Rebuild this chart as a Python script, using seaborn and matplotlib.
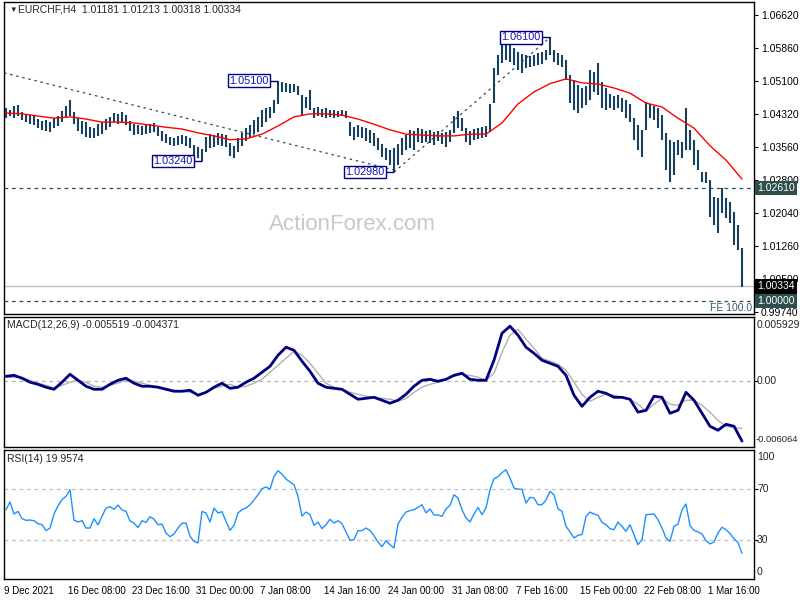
"""
EURCHF H4 chart with MA, MACD and RSI panels
"""

import matplotlib
matplotlib.use("Agg")
import matplotlib.pyplot as plt
import seaborn as sns

# price bars (one bar every 8 hours)
bar_high = [
    1.0446, 1.0442, 1.0451, 1.0453, 1.0437, 1.0433, 1.0430, 1.0428, 1.0421, 1.0416,
    1.0419, 1.0414, 1.0423, 1.0428, 1.0440, 1.0451, 1.0465, 1.0437, 1.0423, 1.0416,
    1.0414, 1.0402, 1.0400, 1.0409, 1.0414, 1.0421, 1.0426, 1.0435, 1.0433, 1.0437,
    1.0430, 1.0416, 1.0409, 1.0407, 1.0405, 1.0407, 1.0409, 1.0412, 1.0402, 1.0393,
    1.0386, 1.0379, 1.0377, 1.0382, 1.0384, 1.0382, 1.0377, 1.0361, 1.0356, 1.0352,
    1.0379, 1.0386, 1.0384, 1.0389, 1.0386, 1.0384, 1.0366, 1.0359, 1.0377, 1.0389,
    1.0400, 1.0407, 1.0419, 1.0426, 1.0442, 1.0446, 1.0449, 1.0465, 1.0510, 1.0507,
    1.0505, 1.0502, 1.0502, 1.0498, 1.0477, 1.0472, 1.0488, 1.0446, 1.0449, 1.0444,
    1.0446, 1.0442, 1.0442, 1.0440, 1.0442, 1.0440, 1.0414, 1.0402, 1.0407, 1.0402,
    1.0400, 1.0396, 1.0389, 1.0377, 1.0363, 1.0354, 1.0349, 1.0354, 1.0363, 1.0377,
    1.0384, 1.0396, 1.0393, 1.0400, 1.0398, 1.0393, 1.0396, 1.0391, 1.0393, 1.0389,
    1.0391, 1.0396, 1.0428, 1.0440, 1.0423, 1.0400, 1.0393, 1.0398, 1.0400, 1.0402,
    1.0405, 1.0456, 1.0539, 1.0570, 1.0604, 1.0600, 1.0595, 1.0586, 1.0576, 1.0572,
    1.0570, 1.0567, 1.0570, 1.0574, 1.0576, 1.0581, 1.0610, 1.0581, 1.0574, 1.0570,
    1.0558, 1.0523, 1.0512, 1.0500, 1.0493, 1.0498, 1.0535, 1.0530, 1.0551, 1.0507,
    1.0493, 1.0479, 1.0474, 1.0477, 1.0470, 1.0465, 1.0456, 1.0423, 1.0407, 1.0396,
    1.0460, 1.0456, 1.0451, 1.0446, 1.0430, 1.0389, 1.0373, 1.0368, 1.0373, 1.0368,
    1.0446, 1.0396, 1.0373, 1.0349, 1.0298, 1.0298, 1.0280, 1.0241, 1.0238, 1.0261,
    1.0238, 1.0229, 1.0206, 1.0176, 1.01213,
]
bar_low = [
    1.0423, 1.0428, 1.0423, 1.0428, 1.0419, 1.0414, 1.0409, 1.0407, 1.0400, 1.0396,
    1.0393, 1.0391, 1.0400, 1.0405, 1.0414, 1.0423, 1.0428, 1.0409, 1.0393, 1.0386,
    1.0379, 1.0377, 1.0377, 1.0382, 1.0386, 1.0396, 1.0402, 1.0414, 1.0409, 1.0414,
    1.0407, 1.0393, 1.0384, 1.0386, 1.0384, 1.0386, 1.0389, 1.0391, 1.0382, 1.0370,
    1.0366, 1.0361, 1.0359, 1.0361, 1.0363, 1.0359, 1.0354, 1.0338, 1.0331, 1.0324,
    1.0345, 1.0354, 1.0356, 1.0361, 1.0359, 1.0356, 1.0336, 1.0331, 1.0345, 1.0359,
    1.0370, 1.0377, 1.0386, 1.0391, 1.0402, 1.0414, 1.0423, 1.0435, 1.0456, 1.0484,
    1.0484, 1.0481, 1.0484, 1.0477, 1.0430, 1.0446, 1.0442, 1.0423, 1.0428, 1.0426,
    1.0423, 1.0426, 1.0423, 1.0426, 1.0428, 1.0423, 1.0382, 1.0373, 1.0379, 1.0377,
    1.0370, 1.0366, 1.0359, 1.0349, 1.0333, 1.0326, 1.0315, 1.0298, 1.0315, 1.0338,
    1.0349, 1.0354, 1.0349, 1.0368, 1.0366, 1.0368, 1.0366, 1.0361, 1.0370, 1.0363,
    1.0356, 1.0368, 1.0389, 1.0400, 1.0393, 1.0368, 1.0361, 1.0373, 1.0375, 1.0377,
    1.0379, 1.0391, 1.0458, 1.0523, 1.0551, 1.0558, 1.0553, 1.0546, 1.0535, 1.0528,
    1.0539, 1.0542, 1.0544, 1.0546, 1.0549, 1.0558, 1.0569, 1.0553, 1.0546, 1.0542,
    1.0512, 1.0458, 1.0442, 1.0435, 1.0446, 1.0453, 1.0465, 1.0484, 1.0477, 1.0446,
    1.0442, 1.0446, 1.0442, 1.0446, 1.0437, 1.0423, 1.0414, 1.0373, 1.0349, 1.0333,
    1.0396, 1.0423, 1.0419, 1.0400, 1.0373, 1.0303, 1.0275, 1.0291, 1.0338, 1.0331,
    1.0349, 1.0349, 1.0315, 1.0303, 1.0275, 1.0273, 1.0194, 1.0176, 1.0157, 1.0203,
    1.0192, 1.0180, 1.0129, 1.0118, 1.00318,
]

# moving average, every 4th bar
ma_values = [
    1.0435, 1.0433, 1.0428, 1.0423, 1.0426, 1.0421, 1.0414, 1.0414, 1.0412, 1.0407,
    1.0402, 1.0398, 1.0389, 1.0382, 1.0373, 1.0375, 1.0386, 1.0405, 1.0426, 1.0433,
    1.0433, 1.0430, 1.0421, 1.0409, 1.0396, 1.0386, 1.0384, 1.0382, 1.0382, 1.0386,
    1.0386, 1.0412, 1.0456, 1.0484, 1.0503, 1.0514, 1.0505, 1.0502, 1.0493, 1.0481,
    1.0458, 1.0449, 1.0423, 1.0400, 1.0359, 1.0326, 1.0282,
]

# MACD(12,26,9), every 2nd bar
macd_main = [
    0.00046, 0.00055, 0.00028, -0.00009, -0.00028, -0.00055, -0.00074, -0.00009, 0.00065, 0.00009,
    -0.00046, -0.00074, -0.00074, -0.00028, 0.00009, 0.00028, -0.00018, -0.00046, -0.00046, -0.00055,
    -0.00074, -0.00092, -0.00092, -0.00083, -0.00129, -0.00102, -0.00055, -0.00018, -0.00065, -0.00055,
    -0.00009, 0.00028, 0.00083, 0.00138, 0.0024, 0.00314, 0.00286, 0.00185, 0.00092, -0.00018,
    -0.00055, -0.00065, -0.00074, -0.0012, -0.00166, -0.00157, -0.00148, -0.00175, -0.00203, -0.00175,
    -0.0012, -0.00046, 0.00009, 0.00018, 0.0, 0.00018, 0.00055, 0.00074, 0.00018, 0.00009,
    0.00009, 0.00194, 0.00443, 0.00508, 0.00425, 0.00314, 0.00258, 0.00194, 0.00166, 0.00138,
    0.00055, -0.00129, -0.00231, -0.00148, -0.00092, -0.00111, -0.00148, -0.00148, -0.00166, -0.00285,
    -0.00268, -0.00138, -0.00148, -0.00295, -0.00268, -0.00102, -0.00175, -0.00295, -0.00415, -0.00452,
    -0.00397, -0.00415, -0.005519,
]
macd_signal = [
    0.00037, 0.00037, 0.00037, 0.00009, -0.00018, -0.00037, -0.00065, -0.00037, -0.00009, 0.00009,
    -0.00009, -0.00046, -0.00055, -0.00037, -0.00018, 0.00009, 0.0, -0.00018, -0.00037, -0.00055,
    -0.00065, -0.00083, -0.00092, -0.00102, -0.0012, -0.00102, -0.00065, -0.00046, -0.00028, -0.00055,
    -0.00046, -0.00018, 0.00018, 0.00083, 0.00148, 0.00212, 0.00277, 0.0024, 0.00166, 0.00074,
    -0.00018, -0.00055, -0.00074, -0.00102, -0.0012, -0.00138, -0.00148, -0.00157, -0.00166, -0.00185,
    -0.00157, -0.00102, -0.00055, -0.00028, -0.00009, 0.00018, 0.00046, 0.00065, 0.00055, 0.00037,
    0.00009, 0.00074, 0.00268, 0.00425, 0.0048, 0.00388, 0.00305, 0.00212, 0.00185, 0.00157,
    0.00102, -0.00009, -0.0012, -0.00185, -0.00148, -0.0012, -0.00129, -0.00148, -0.00166, -0.00212,
    -0.00277, -0.00212, -0.00157, -0.00212, -0.00222, -0.00175, -0.00175, -0.00222, -0.00286, -0.0036,
    -0.00415, -0.00425, -0.004371,
]

# RSI(14), every bar
rsi_values = [
    53.7, 59.7, 50.4, 52.4, 46.8, 45.5, 45.7, 45.2, 42.9, 42.1,
    37.5, 39.5, 50.4, 56.8, 61.5, 64.1, 69.2, 45.7, 44.2, 45.2,
    39.5, 39.5, 46.8, 41.9, 48.6, 55.0, 56.1, 54.0, 57.3, 53.5,
    52.4, 45.0, 43.4, 39.8, 45.2, 43.9, 48.3, 46.3, 42.1, 42.6,
    35.7, 32.8, 34.9, 39.5, 43.2, 43.4, 33.1, 29.2, 27.9, 52.4,
    51.2, 44.2, 55.0, 51.2, 52.2, 44.7, 37.7, 41.6, 51.2, 53.7,
    55.0, 57.6, 61.2, 65.3, 70.0, 71.3, 69.7, 79.5, 83.9, 81.3,
    77.5, 75.2, 73.1, 64.1, 48.8, 51.9, 49.9, 41.6, 44.2, 39.0,
    42.1, 46.3, 43.4, 45.2, 42.9, 36.5, 30.0, 30.5, 37.5, 37.5,
    39.5, 37.5, 33.6, 28.7, 25.1, 29.7, 26.6, 24.1, 42.6, 47.8,
    51.9, 53.0, 53.7, 55.5, 57.6, 51.2, 54.3, 49.6, 49.6, 48.6,
    54.3, 57.1, 65.3, 62.8, 53.7, 47.3, 44.2, 50.4, 55.5, 49.9,
    55.0, 69.2, 77.7, 79.3, 82.4, 84.7, 78.2, 70.5, 69.7, 69.5,
    58.9, 63.3, 62.8, 57.6, 57.6, 61.2, 67.9, 65.3, 54.5, 52.4,
    40.8, 36.5, 31.8, 33.9, 34.4, 48.6, 51.9, 50.4, 49.4, 43.9,
    42.1, 39.0, 38.3, 44.2, 40.8, 37.0, 42.1, 34.4, 26.6, 30.5,
    49.9, 50.1, 50.4, 46.0, 39.5, 31.8, 29.2, 40.8, 42.6, 53.7,
    58.1, 41.4, 37.7, 36.5, 34.9, 29.7, 27.2, 28.7, 35.7, 40.1,
    38.3, 35.2, 31.3, 28.2, 19.9574,
]

date_labels = ["9 Dec 2021", "16 Dec 08:00", "23 Dec 16:00", "31 Dec 00:00",
               "7 Jan 08:00", "14 Jan 16:00", "24 Jan 00:00", "31 Jan 08:00",
               "7 Feb 16:00", "15 Feb 00:00", "22 Feb 08:00", "1 Mar 16:00"]
price_ticks = [1.0662, 1.0586, 1.0510, 1.0432, 1.0356, 1.0280, 1.0204, 1.0126, 1.0050, 0.9974]

last_ohlc = [1.01181, 1.01213, 1.00318, 1.00334]
level_resist = 1.0261
level_fe = 1.0000

# swing labels and trend lines
swing_text = ["1.05100", "1.03240", "1.02980", "1.06100"]
swing_bar = [68, 49, 97, 136]
swing_price = [1.0510, 1.0324, 1.0298, 1.0610]
trend_a_bar = [-0.5, 97]
trend_a_price = [1.0528, 1.0303]
trend_b_bar = [97, 136]
trend_b_price = [1.0298, 1.0610]

sns.set_style("white")
plt.rcParams["font.family"] = ["Liberation Sans", "DejaVu Sans"]

BAR = "#17405f"
NAVY = "#000080"
SLATE = "#2f4f4f"
FS = 7.5

bar_idx = list(range(len(bar_high)))
ma_idx = list(range(0, len(bar_high), 4))
macd_idx = list(range(0, len(bar_high), 2))
date_ticks = [16 * k - 0.5 for k in range(len(date_labels))]

fig = plt.figure(figsize=(8, 6), dpi=100)
ax_p = fig.add_axes([4 / 800, 1 - 314 / 600, 750 / 800, 312 / 600])
ax_m = fig.add_axes([4 / 800, 1 - 447 / 600, 750 / 800, 130 / 600])
ax_r = fig.add_axes([4 / 800, 1 - 579 / 600, 750 / 800, 129 / 600])

for ax in (ax_p, ax_m, ax_r):
    ax.set_xlim(-0.5, 187)
    for sp in ax.spines.values():
        sp.set_color("black")
        sp.set_linewidth(1)
    ax.yaxis.tick_right()
    ax.tick_params(axis="y", length=3, width=0.8, labelsize=FS, pad=2, colors="black")

# price panel
ax_p.vlines(bar_idx, bar_low, bar_high, color=BAR, lw=1.5, zorder=3)
sns.lineplot(x=ma_idx, y=ma_values, ax=ax_p, color="red", lw=1, zorder=4)
ax_p.plot(trend_a_bar, trend_a_price, color=SLATE, lw=0.9, ls=(0, (2, 3)))
ax_p.plot(trend_b_bar, trend_b_price, color=SLATE, lw=0.9, ls=(0, (2, 3)))
ax_p.axhline(level_resist, color=SLATE, lw=0.9, ls=(0, (3, 3)))
ax_p.axhline(level_fe, color=SLATE, lw=0.9, ls=(0, (3, 3)))
ax_p.axhline(last_ohlc[3], color="#c0c0c0", lw=1)
ax_p.set_ylim(0.99695, 1.06921)
ax_p.set_xticks([])
ax_p.set_yticks(price_ticks)
ax_p.set_yticklabels([f"{v:.5f}" for v in price_ticks])
ax_p.set_xlabel("")
ax_p.set_ylabel("")

for lab, i, p in zip(swing_text, swing_bar, swing_price):
    ax_p.hlines(p, i - 2.4, i, color=NAVY, lw=1, zorder=5)
    ax_p.text(i - 2.4, p, lab, ha="right", va="center", fontsize=7.8, color="#1414b4",
              bbox=dict(boxstyle="square,pad=0.12", fc="white", ec=NAVY, lw=1), zorder=6)

# value boxes on the price scale (they sit over the nearby tick labels, as in MT4)
for val, fc in [(level_resist, SLATE), (last_ohlc[3], "black"), (level_fe, SLATE)]:
    ax_p.text(1 + 3 / 750, val, f"{val:.5f}", transform=ax_p.get_yaxis_transform(),
              ha="left", va="center", fontsize=FS, color="white", clip_on=False, zorder=10,
              bbox=dict(boxstyle="square,pad=0.22", fc=fc, ec="none"))

ax_p.text(0.997, 0.99834, "FE 100.0", transform=ax_p.get_yaxis_transform(),
          ha="right", va="center", fontsize=FS, color="#3c5a6e")

fig.text(9 / 800, 1 - 10 / 600, "\u25bc", fontsize=5.5, ha="left", va="center")
fig.text(18 / 800, 1 - 10 / 600, "EURCHF,H4  " + " ".join(f"{v:.5f}" for v in last_ohlc),
         fontsize=FS, ha="left", va="center")
fig.text(0.44, 0.625, "ActionForex.com", fontsize=16, color="#c8c8c8",
         ha="center", va="center", family="Liberation Sans")

# MACD panel
ax_m.axhline(0, color="#b4b4b4", lw=0.9, ls=(0, (3, 3)))
sns.lineplot(x=macd_idx, y=macd_signal, ax=ax_m, color="#b0b0b0", lw=1)
sns.lineplot(x=macd_idx, y=macd_main, ax=ax_m, color=NAVY, lw=2)
ax_m.set_ylim(-0.006064, 0.005929)
ax_m.set_xticks([])
ax_m.set_yticks([0])
ax_m.set_yticklabels([])
ax_m.set_xlabel("")
ax_m.set_ylabel("")
ax_m.text(0.004, 0.935, f"MACD(12,26,9) {macd_main[-1]:.6f} {macd_signal[-1]:.6f}",
          transform=ax_m.transAxes, fontsize=FS, va="center")
ax_m.text(1 + 3 / 750, 0.938, "0.005929", transform=ax_m.transAxes, fontsize=FS, va="center")
ax_m.text(1 + 3 / 750, 0, "0.00", transform=ax_m.get_yaxis_transform(), fontsize=FS, va="center")
ax_m.text(1 + 2 / 750, 0.054, "-0.006064", transform=ax_m.transAxes, fontsize=6.8, va="center")

# RSI panel
ax_r.axhline(70, color="#c0c0c0", lw=0.9, ls=(0, (3, 3)))
ax_r.axhline(30, color="#c0c0c0", lw=0.9, ls=(0, (3, 3)))
sns.lineplot(x=bar_idx, y=rsi_values, ax=ax_r, color="#1e90ff", lw=1)
ax_r.set_ylim(0, 100)
ax_r.set_yticks([30, 70])
ax_r.set_yticklabels([])
ax_r.set_xticks(date_ticks)
ax_r.set_xticklabels(date_labels, ha="left")
ax_r.tick_params(axis="x", length=3, width=0.8, labelsize=7.0, pad=2, colors="black")
ax_r.set_xlabel("")
ax_r.set_ylabel("")
ax_r.text(0.004, 0.93, f"RSI(14) {rsi_values[-1]:.4f}", transform=ax_r.transAxes,
          fontsize=FS, va="center")
for frac, lab in [(0.946, "100"), (0.054, "0")]:
    ax_r.text(1 + 3 / 750, frac, lab, transform=ax_r.transAxes, fontsize=FS, va="center")
for val in [70, 30]:
    ax_r.text(1 + 3 / 750, val, str(val), transform=ax_r.get_yaxis_transform(),
              fontsize=FS, va="center")

fig.savefig("out.png", dpi=100)
